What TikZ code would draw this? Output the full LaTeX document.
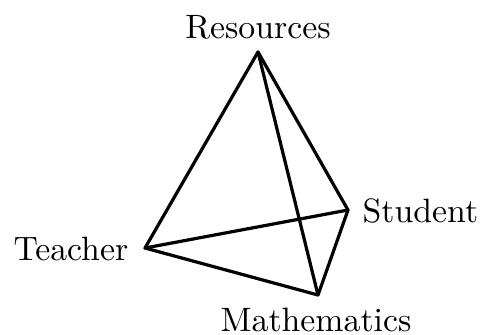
\documentclass[tikz,border=0pt]{standalone}
\begin{document}
\begin{tikzpicture}[x=0.296pt,y=-0.296pt,
  edge/.style={line width=0.95pt,line cap=round,line join=round},
  lbl/.style={inner sep=0pt,font=\fontsize{10}{12}\selectfont}]
\useasboundingbox (0,0) rectangle (482,334);
\coordinate (R) at (258,52);
\coordinate (S) at (348,210);
\coordinate (T) at (145,248);
\coordinate (M) at (318,295);
\node[lbl,anchor=base] (lr) at (258,38) {Resources};
\node[lbl,anchor=base west] (ls) at (362,222) {Student};
\node[lbl,anchor=base west] (lt) at (13,260) {Teacher};
\node[lbl,anchor=base west] (lm) at (220,331) {Mathematics};
\draw[edge] (R) -- (T) -- (M) -- (S) -- cycle;
\draw[edge] (R) -- (M);
\draw[edge] (T) -- (S);
\end{tikzpicture}
\end{document}
